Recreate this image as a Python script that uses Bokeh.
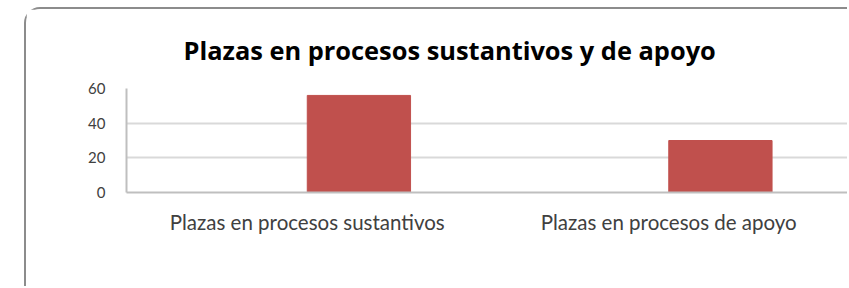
from bokeh.plotting import figure
from bokeh.models import FactorRange, Range1d, FixedTicker, ColumnDataSource
from bokeh.transform import dodge
from bokeh.embed import file_html
from bokeh.resources import INLINE

title_text = "Plazas en procesos sustantivos y de apoyo"
categories = ["Plazas en procesos sustantivos", "Plazas en procesos de apoyo"]
values = [56, 30]
y_ticks = [0, 20, 40, 60]

FONT = "Lato"
TITLE_FONT = "Open Sans"
BAR = "#C0504D"

source = ColumnDataSource(data=dict(cat=categories, val=values))

p = figure(width=823, height=279, x_range=FactorRange(*categories, range_padding=0),
           y_range=Range1d(0, 60), output_backend="svg", toolbar_location=None,
           min_border_left=100, min_border_right=0, min_border_top=78, min_border_bottom=96)
p.outline_line_color = None
p.background_fill_color = "white"
p.border_fill_color = "white"
p.styles = {"margin-left": "24px", "margin-top": "7px",
            "border-left": "2px solid #8C8C8C", "border-top": "2px solid #8C8C8C",
            "border-top-left-radius": "16px"}

p.title.text = title_text
p.title.align = "left"
p.title.text_font = TITLE_FONT
p.title.text_font_style = "bold"
p.title.text_font_size = "25.4px"
p.title.text_color = "#000000"
p.title.standoff = 43
p.title.offset = 57

p.vbar(x=dodge("cat", 0.1429, range=p.x_range), top="val", width=0.2857, source=source,
       fill_color=BAR, line_color=BAR)

p.xgrid.grid_line_color = None
p.ygrid.grid_line_color = "#D9D9D9"
p.ygrid.grid_line_width = 2
p.yaxis.ticker = FixedTicker(ticks=y_ticks)
for ax in (p.xaxis, p.yaxis):
    ax.axis_line_color = "#BFBFBF"
    ax.axis_line_width = 2
    ax.major_tick_line_color = None
    ax.minor_tick_line_color = None
    ax.major_label_text_font = FONT
    ax.major_label_text_color = "#404040"
p.yaxis.major_label_text_font_size = "15px"
p.yaxis.major_label_standoff = 15
p.xaxis.major_label_text_font_size = "20.5px"
p.xaxis.major_label_standoff = 11

open("out.html", "w").write(file_html(p, INLINE))
